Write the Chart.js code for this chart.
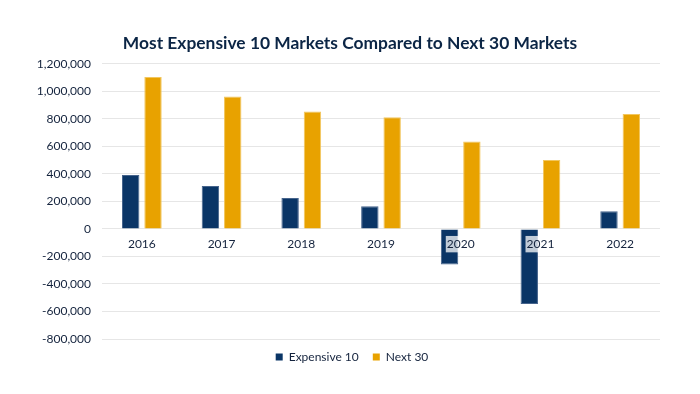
<!DOCTYPE html>
<html>
<head>
<meta charset="utf-8">
<script src="https://cdn.jsdelivr.net/npm/chart.js@4/dist/chart.umd.min.js"></script>
<style>
  html, body { margin: 0; padding: 0; background: #ffffff; }
  #wrap { width: 700px; height: 394px; position: relative; }
</style>
</head>
<body>
<div id="wrap"><canvas id="c" width="700" height="394"></canvas></div>
<script>
const categories = ["2016", "2017", "2018", "2019", "2020", "2021", "2022"];
const expensive10 = [393000, 313000, 225000, 165000, -259000, -545000, 129000];
const next30 = [1105000, 963000, 854000, 812000, 636000, 502000, 836000];
const seriesNames = ["Expensive 10", "Next 30"];
const chartTitle = "Most Expensive 10 Markets Compared to Next 30 Markets";

const textColor = "#14233d";
const fontFamily = "Lato, 'Noto Sans', sans-serif";

// shift title and legend horizontally to match the original centring
const shiftBlocks = {
  id: "shiftBlocks",
  afterLayout(chart) {
    const lg = chart.legend;
    if (lg) { lg.left += 12; lg.right += 12; lg.top -= 2; lg.bottom -= 2; }
    const tb = chart.titleBlock;
    if (tb) { tb.left += 10; tb.right += 10; }
  }
};

new Chart(document.getElementById("c"), {
  type: "bar",
  data: {
    labels: categories,
    datasets: [
      { label: seriesNames[0], data: expensive10, backgroundColor: "#0a3566", borderColor: "#46648c", borderWidth: 1, categoryPercentage: 0.56, barPercentage: 0.78 },
      { label: seriesNames[1], data: next30, backgroundColor: "#e8a200", borderColor: "#f2c65e", borderWidth: 1, categoryPercentage: 0.56, barPercentage: 0.78 }
    ]
  },
  options: {
    responsive: false,
    animation: false,
    devicePixelRatio: 1,
    layout: { padding: { top: 0, left: 20, right: 40, bottom: 19 } },
    plugins: {
      title: {
        display: true,
        text: chartTitle,
        color: "#0b2545",
        font: { family: fontFamily, size: 17.4, weight: "bold" },
        padding: { top: 33, bottom: 10 }
      },
      legend: {
        position: "bottom",
        labels: {
          color: textColor,
          font: { family: fontFamily, size: 12 },
          boxWidth: 7,
          boxHeight: 7,
          padding: 14,
          generateLabels: (chart) => chart.data.datasets.map((ds, i) => ({
            text: ds.label,
            fillStyle: ds.backgroundColor,
            strokeStyle: ds.backgroundColor,
            lineWidth: 0,
            fontColor: textColor,
            hidden: false,
            datasetIndex: i
          }))
        }
      },
      tooltip: { enabled: false }
    },
    scales: {
      x: {
        position: { y: 0 },
        grid: { display: false, drawTicks: false },
        border: { display: false },
        ticks: {
          z: 1,
          color: textColor,
          font: { family: fontFamily, size: 12 },
          padding: 8,
          showLabelBackdrop: true,
          backdropColor: "rgba(255,255,255,0.75)",
          backdropPadding: 1
        }
      },
      y: {
        min: -800000,
        max: 1200000,
        afterFit: (s) => { s.width = 82; },
        grid: { color: "#e6e6e6", drawTicks: false },
        border: { display: false },
        ticks: {
          stepSize: 200000,
          color: textColor,
          font: { family: fontFamily, size: 12 },
          padding: 11,
          callback: (v) => v.toLocaleString("en-US")
        }
      }
    }
  },
  plugins: [shiftBlocks]
});
</script>
</body>
</html>
